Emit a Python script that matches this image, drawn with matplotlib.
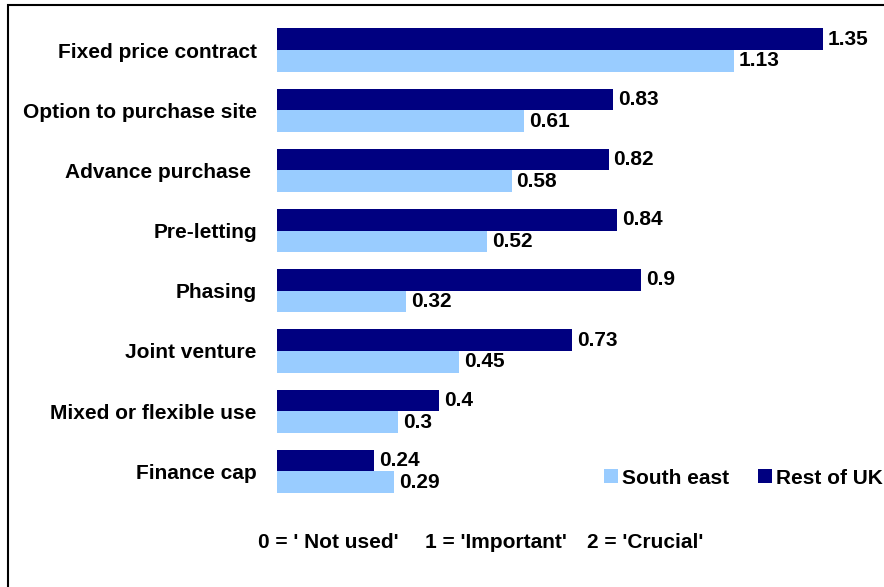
import matplotlib
matplotlib.use("Agg")
import matplotlib.pyplot as plt
from matplotlib.patches import Patch, Rectangle

categories = ['Fixed price contract', 'Option to purchase site', 'Advance purchase ',
              'Pre-letting', 'Phasing', 'Joint venture', 'Mixed or flexible use',
              'Finance cap']
rest_of_uk = [1.35, 0.83, 0.82, 0.84, 0.9, 0.73, 0.4, 0.24]
south_east = [1.13, 0.61, 0.58, 0.52, 0.32, 0.45, 0.3, 0.29]
scale_notes = ["0 = ' Not used'", "1 = 'Important'", "2 = 'Crucial'"]

DARK = '#000080'
LIGHT = '#99CCFF'

plt.rcParams['font.family'] = ['Liberation Sans', 'DejaVu Sans']
plt.rcParams['font.weight'] = 'bold'
FS = 15

W, H = 884, 587
fig = plt.figure(figsize=(W / 100, H / 100), dpi=100)
ax = fig.add_axes([277 / W, (H - 501.5) / H, 606.6 / W, 481.6 / H])

y = list(range(len(categories)))
h = 0.36
dark_bars = ax.barh([v - h / 2 for v in y], rest_of_uk, height=h, color=DARK)
light_bars = ax.barh([v + h / 2 for v in y], south_east, height=h, color=LIGHT)

ax.bar_label(dark_bars, fmt='%g', padding=3.6, fontsize=FS, fontweight='bold')
ax.bar_label(light_bars, fmt='%g', padding=3.6, fontsize=FS, fontweight='bold')

ax.set_xlim(0, 1.5)
ax.set_ylim(len(categories) - 0.5, -0.5)
ax.set_yticks(y)
ax.set_yticklabels(categories, fontsize=FS, fontweight='bold')
ax.tick_params(axis='y', length=0, pad=14.5)
ax.set_xticks([])
for s in ax.spines.values():
    s.set_visible(False)

# legend: South east first, then Rest of UK
handles = [Patch(facecolor=LIGHT), Patch(facecolor=DARK)]
fig.legend(handles, ['South east', 'Rest of UK'], loc='center left',
           bbox_to_anchor=(604 / W, 1 - 478 / H), ncol=2, frameon=False,
           borderpad=0, borderaxespad=0, handlelength=0.65, handleheight=0.65,
           handletextpad=0.2, columnspacing=1.4,
           prop={'size': FS, 'weight': 'bold'})

# scale explanation under the chart
for txt, xp in zip(scale_notes, [258, 425, 587]):
    fig.text(xp / W, 1 - 542 / H, txt, ha='left', va='center',
             fontsize=FS, fontweight='bold')

# outer frame (open at right and bottom)
fig.patches.append(Rectangle((8 / W, -0.1), 2, 1.1 - 5 / H, transform=fig.transFigure,
                             fill=False, edgecolor='black', lw=1.5))

fig.savefig('out.png', dpi=100)
